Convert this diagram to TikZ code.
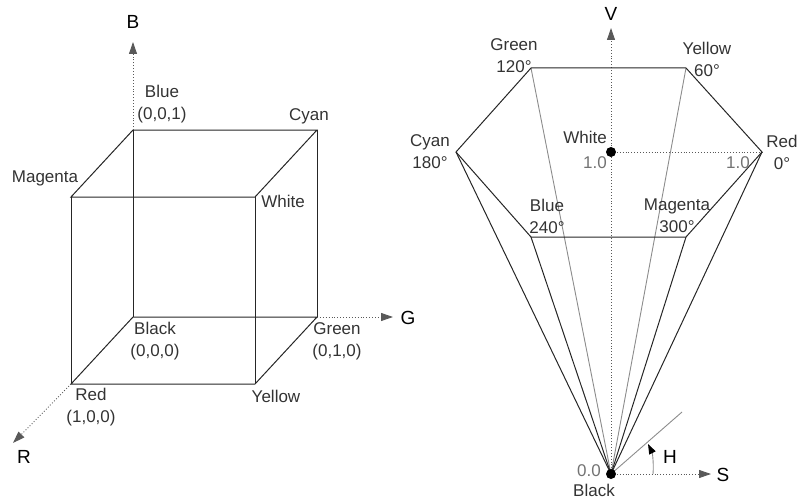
\documentclass[tikz,border=0pt]{standalone}
\usepackage{fontspec}
\setmainfont{Liberation Sans}
\usetikzlibrary{arrows.meta}

\begin{document}
\begin{tikzpicture}[x=1pt, y=-1pt,
  edge/.style={black!85, line width=1pt},
  back/.style={black!45, line width=0.9pt},
  axis/.style={black!65, dotted, line width=0.9pt},
  tip/.style={-{Triangle[length=12pt, width=8pt]}},
  lbl/.style={text=black!80, inner sep=0pt, align=center, font=\fontsize{17}{22}\selectfont},
  num/.style={lbl, text=black!55},
  ax/.style={text=black, inner sep=0pt, font=\fontsize{19}{22}\selectfont}]
\useasboundingbox (0,0) rectangle (798,503);

% RGB cube
\coordinate (blue) at (133,130);
\coordinate (cyan) at (317,130);
\coordinate (magenta) at (71,197);
\coordinate (white) at (255,197);
\coordinate (black) at (133,317);
\coordinate (green) at (317,317);
\coordinate (red) at (71,384);
\coordinate (yellow) at (255,384);
\coordinate (bTip) at (133,42);
\coordinate (gTip) at (393,317);
\coordinate (rTip) at (13,443);

\draw[edge] (blue)--(cyan)--(white)--(magenta)--cycle;
\draw[edge] (black)--(green)--(yellow)--(red)--cycle;
\draw[edge] (blue)--(black);
\draw[edge] (cyan)--(green);
\draw[edge] (magenta)--(red);
\draw[edge] (white)--(yellow);

\draw[axis, tip] (blue)--(bTip);
\draw[axis, tip] (green)--(gTip);
\draw[axis, tip] (red)--(rTip);

\node[ax] (bLbl) at (133,22) {B};
\node[ax] (gLbl) at (408,318) {G};
\node[ax] (rLbl) at (24,457) {R};

\node[lbl] (blueLbl) at (162,104) {Blue\\(0,0,1)};
\node[lbl] (cyanLbl) at (309,116) {Cyan};
\node[lbl] (magentaLbl) at (45,178) {Magenta};
\node[lbl] (whiteLbl) at (283,201) {White};
\node[lbl] (blackLbl) at (155,341) {Black\\(0,0,0)};
\node[lbl] (greenLbl) at (337,341) {Green\\(0,1,0)};
\node[lbl] (redLbl) at (91,407) {Red\\(1,0,0)};
\node[lbl] (yellowLbl) at (276,396) {Yellow};

% HSV hexcone
\coordinate (hGreen) at (531,68);
\coordinate (hYellow) at (686,68);
\coordinate (hCyan) at (456,152);
\coordinate (hRed) at (762,152);
\coordinate (hBlue) at (531,237);
\coordinate (hMagenta) at (686,237);
\coordinate (hWhite) at (611,152);
\coordinate (hBlack) at (611,474);
\coordinate (vTip) at (611,28);
\coordinate (sTip) at (711,474);
\coordinate (hLine) at (682,412);
\coordinate (hStart) at (653,474);
\coordinate (hEnd) at (648,444);

\draw[axis, tip] (hBlack)--(vTip);
\draw[axis] (hWhite)--(hRed);
\draw[axis, tip] (hBlack)--(sTip);

\draw[back] (hBlack)--(hGreen);
\draw[back] (hBlack)--(hYellow);
\draw[back] (hBlack)--(hLine);
\draw[edge] (hGreen)--(hYellow)--(hRed)--(hMagenta)--(hBlue)--(hCyan)--cycle;
\draw[edge] (hBlack)--(hCyan);
\draw[edge] (hBlack)--(hRed);
\draw[edge] (hBlack)--(hBlue);
\draw[edge] (hBlack)--(hMagenta);
\draw[back, -{Triangle[length=10pt, width=7pt, color=black, fill=black]}] (hStart) .. controls (654,462) and (652,452) .. (hEnd);

\fill[black] (hWhite) circle (5);
\fill[black] (hBlack) circle (5);

\node[ax] (vLbl) at (611,14) {V};
\node[ax] (sLbl) at (723,475) {S};
\node[ax] (hLbl) at (670,457) {H};

\node[lbl] (hGreenLbl) at (514,56) {Green\\120°};
\node[lbl] (hYellowLbl) at (707,59) {Yellow\\60°};
\node[lbl] (hCyanLbl) at (430,152) {Cyan\\180°};
\node[lbl] (hRedLbl) at (782,152) {Red\\0°};
\node[lbl] (hBlueLbl) at (547,216) {Blue\\240°};
\node[lbl] (hMagentaLbl) at (677,216) {Magenta\\300°};
\node[lbl] (hWhiteLbl) at (585,137) {White};
\node[num] (oneLbl) at (595,163) {1.0};
\node[num] (oneRedLbl) at (738,163) {1.0};
\node[num] (zeroLbl) at (589,471) {0.0};
\node[lbl] (hBlackLbl) at (594,490) {Black};
\end{tikzpicture}
\end{document}
